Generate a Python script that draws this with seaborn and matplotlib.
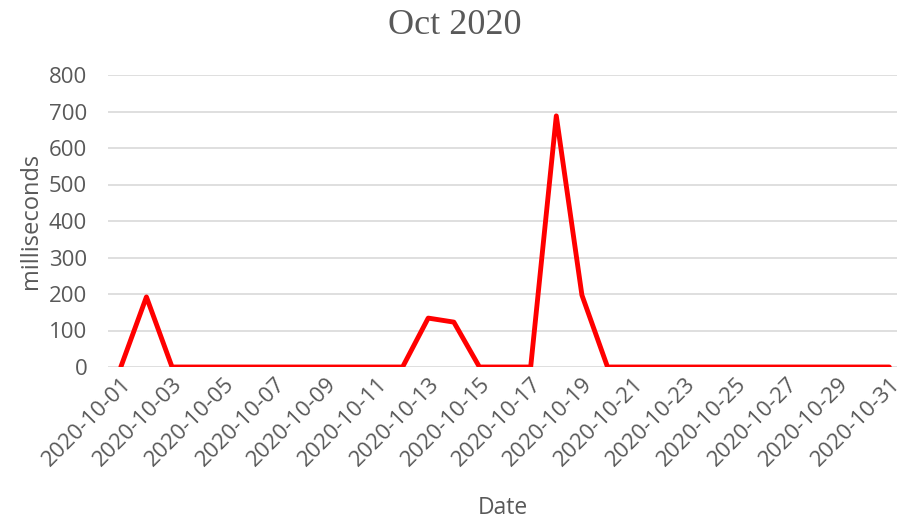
"""
plot.py
Daily response time for October 2020 (line chart, Excel look).
Saves out.png
"""

import numpy as np
import pandas as pd
import matplotlib
matplotlib.use('Agg')
import matplotlib.pyplot as plt
import seaborn as sns

# ── Data ───────────────────────────────────────────────
days = [f'2020-10-{d:02d}' for d in range(1, 32)]
millis = [0, 192, 0, 0, 0, 0, 0, 0, 0, 0,
          0, 0, 134, 123, 0, 0, 0, 688, 197, 0,
          0, 0, 0, 0, 0, 0, 0, 0, 0, 0, 0]
y_ticks = [0, 100, 200, 300, 400, 500, 600, 700, 800]
# ───────────────────────────────────────────────────────

TXT = '#595959'

sns.set_theme(style='white')
plt.rcParams['font.family'] = ['Open Sans', 'DejaVu Sans']

df = pd.DataFrame({'Date': days, 'ms': millis})
df['pos'] = np.arange(len(df))

fig, ax = plt.subplots(figsize=(8.97, 5.21), dpi=100)
fig.subplots_adjust(left=108 / 897, right=1.0, top=1 - 75 / 521,
                    bottom=1 - 367 / 521)

sns.lineplot(data=df, x='pos', y='ms', color='#ff0000', linewidth=3.5, ax=ax)

ax.set_xlim(-0.5, len(df) - 0.7)
ax.set_ylim(0, 800)
ax.set_yticks(y_ticks)
ax.set_xticks(df['pos'][::2])
ax.set_xticklabels(df['Date'][::2], rotation=45, ha='right',
                   rotation_mode='anchor')
ax.tick_params(axis='both', colors=TXT, labelsize=16, length=0)
ax.tick_params(axis='x', pad=5)
ax.tick_params(axis='y', pad=15)

ax.grid(axis='y', color='#d9d9d9', linewidth=1.2)
ax.set_axisbelow(True)
for s in ax.spines.values():
    s.set_visible(False)

ax.set_xlabel('Date', color=TXT, fontsize=16.5, labelpad=18)
ax.set_ylabel('milliseconds', color=TXT, fontsize=17, labelpad=4)
fig.suptitle('Oct 2020', color=TXT, fontsize=26,
             family='Liberation Serif', x=0.507, y=0.982, va='top')

plt.savefig('out.png', dpi=100)
plt.close()
